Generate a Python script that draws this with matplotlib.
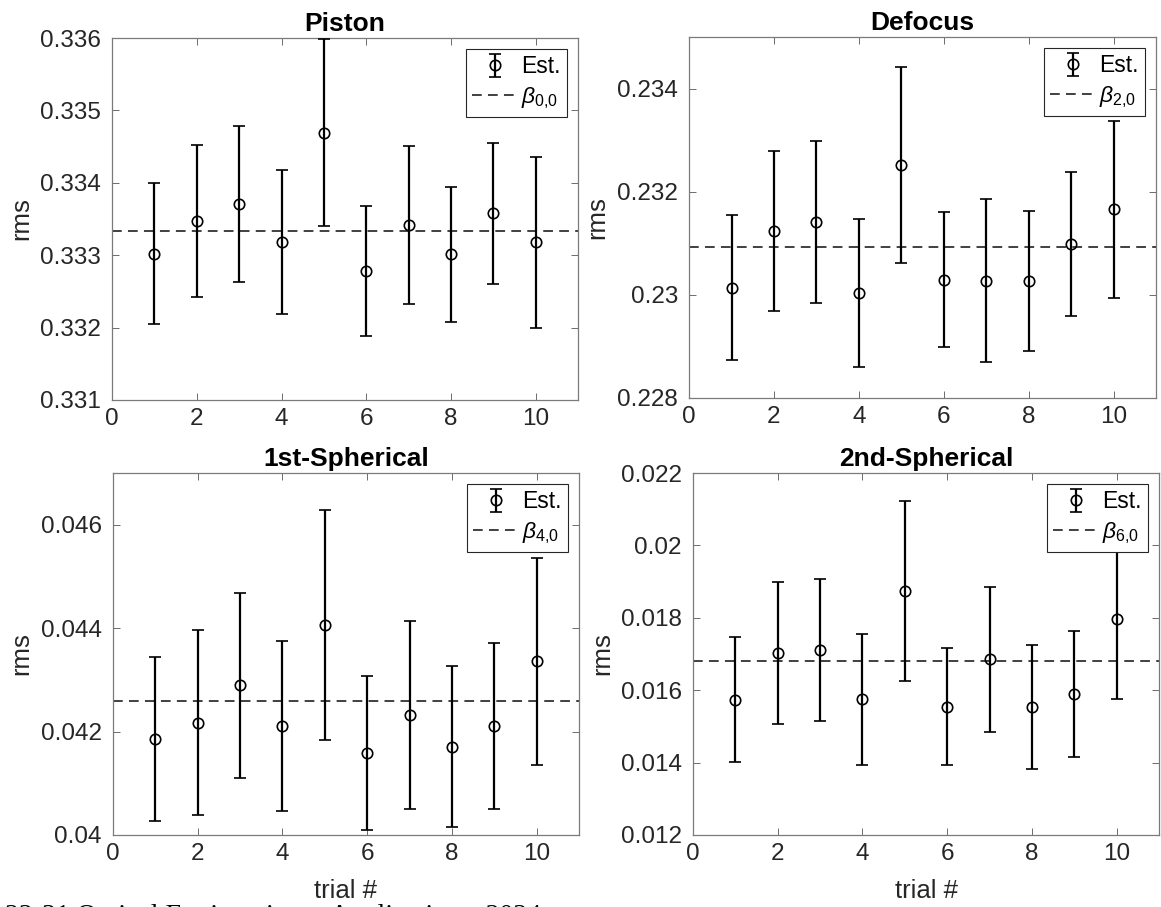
import numpy as np
import matplotlib
matplotlib.use("Agg")
import matplotlib.pyplot as plt
from matplotlib.ticker import FuncFormatter, MultipleLocator

# rms estimates per trial with their error half-widths
trials = np.arange(1, 11)

piston_est = [0.333022, 0.333468, 0.333710, 0.333184, 0.334690,
              0.332786, 0.333412, 0.333012, 0.333576, 0.333180]
piston_err = [0.00097, 0.00105, 0.00108, 0.00099, 0.00129,
              0.00090, 0.00109, 0.00093, 0.00097, 0.00118]
piston_ref = 1.0 / 3.0

defocus_est = [0.230139, 0.231232, 0.231406, 0.230036, 0.232516,
               0.230290, 0.230278, 0.230264, 0.230984, 0.231658]
defocus_err = [0.00140, 0.00155, 0.00157, 0.00144, 0.00190,
               0.00131, 0.00158, 0.00136, 0.00140, 0.00172]
defocus_ref = 0.230935

sph1_est = [0.041852, 0.042174, 0.042896, 0.042110, 0.044064,
            0.041590, 0.042316, 0.041706, 0.042106, 0.043355]
sph1_err = [0.00159, 0.00179, 0.00179, 0.00164, 0.00223,
            0.00149, 0.00182, 0.00156, 0.00161, 0.00201]
sph1_ref = 0.042600

sph2_est = [0.015742, 0.017028, 0.017120, 0.015752, 0.018747,
            0.015544, 0.016857, 0.015526, 0.015908, 0.017972]
sph2_err = [0.00173, 0.00197, 0.00196, 0.00181, 0.00248,
            0.00161, 0.00200, 0.00171, 0.00174, 0.00221]
sph2_ref = 0.016793

titles = ["Piston", "Defocus", "1st-Spherical", "2nd-Spherical"]
ref_labels = [r"$\beta_{\mathrm{0{,}0}}$", r"$\beta_{\mathrm{2{,}0}}$",
              r"$\beta_{\mathrm{4{,}0}}$", r"$\beta_{\mathrm{6{,}0}}$"]
ylims = [(0.331, 0.336), (0.228, 0.235), (0.040, 0.047), (0.012, 0.022)]
ysteps = [0.001, 0.002, 0.002, 0.002]

plt.rcParams["font.family"] = ["Liberation Sans", "DejaVu Sans"]
plt.rcParams["mathtext.fontset"] = "custom"
plt.rcParams["mathtext.rm"] = "Liberation Sans"
plt.rcParams["mathtext.it"] = "Liberation Sans:italic"
plt.rcParams["lines.scale_dashes"] = False

fig = plt.figure(figsize=(11.61, 9.07), dpi=100)

boxes = [
    [0.0965, 0.5590, 0.4014, 0.3991],
    [0.5935, 0.5612, 0.4022, 0.3980],
    [0.0973, 0.0794, 0.4014, 0.3991],
    [0.5969, 0.0794, 0.4014, 0.3991],
]

data = [
    (piston_est, piston_err, piston_ref),
    (defocus_est, defocus_err, defocus_ref),
    (sph1_est, sph1_err, sph1_ref),
    (sph2_est, sph2_err, sph2_ref),
]

axis_col = "#262626"
for i, (box, (est, err, ref)) in enumerate(zip(boxes, data)):
    ax = fig.add_axes(box)
    eb = ax.errorbar(trials, est, yerr=err, fmt="o", color="black",
                     mfc="none", mec="black", ms=7.5, mew=1.2,
                     elinewidth=1.6, capsize=4.5, capthick=1.6,
                     label="Est.", zorder=3)
    ref_line = ax.axhline(ref, color="#404040", lw=1.4, dashes=(7, 4.5),
                          label=ref_labels[i], zorder=2)

    ax.set_xlim(0, 11)
    ax.set_ylim(*ylims[i])
    ax.xaxis.set_major_locator(MultipleLocator(2))
    ax.yaxis.set_major_locator(MultipleLocator(ysteps[i]))
    ax.yaxis.set_major_formatter(FuncFormatter(lambda v, p: f"{round(v, 6):g}"))
    ax.tick_params(direction="in", top=True, right=True, length=5,
                   width=0.6, color="#555555", labelsize=17.5,
                   labelcolor=axis_col)
    ax.tick_params(axis="y", pad=8)
    ax.tick_params(axis="x", pad=6)
    for sp in ax.spines.values():
        sp.set_color("#7a7a7a")
        sp.set_linewidth(0.9)

    ax.set_title(titles[i], fontsize=19, fontweight="bold", pad=5)
    ax.set_ylabel("rms", fontsize=18.5, color=axis_col)
    ax.yaxis.set_label_coords(-0.17, 0.5)
    if i >= 2:
        ax.set_xlabel("trial #", fontsize=18.5, color=axis_col)
        ax.xaxis.set_label_coords(0.5, -0.122)

    leg = ax.legend([eb, ref_line], ["Est.", ref_labels[i]],
                    loc="upper right", fontsize=16.5, fancybox=False,
                    framealpha=1, edgecolor="#262626", borderaxespad=0.5,
                    handlelength=2.0, handletextpad=0.15, borderpad=0.25,
                    labelspacing=0.3)
    leg.get_frame().set_linewidth(0.8)
    leg.set_zorder(5)

fig.text(0.004, 1 - 904 / 907, "22-31 Optical Engineering + Applications, 2024",
         family="Liberation Serif", fontsize=20, va="top", ha="left")

fig.savefig("out.png", dpi=100)
